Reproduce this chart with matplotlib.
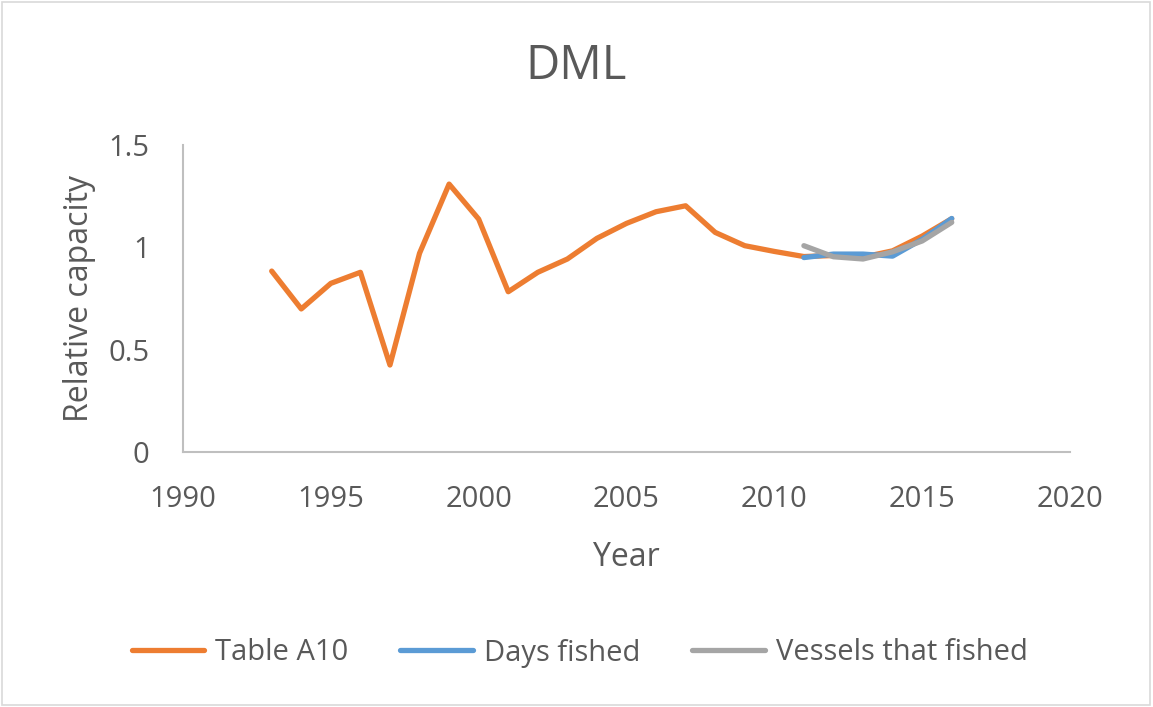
import matplotlib
matplotlib.use('Agg')
import matplotlib.pyplot as plt
from matplotlib.patches import Rectangle

# data
years_a10 = [1993, 1994, 1995, 1996, 1997, 1998, 1999, 2000, 2001, 2002, 2003, 2004,
             2005, 2006, 2007, 2008, 2009, 2010, 2011, 2012, 2013, 2014, 2015, 2016]
table_a10 = [0.884, 0.699, 0.824, 0.878, 0.425, 0.971, 1.309, 1.138, 0.783, 0.878, 0.943, 1.044,
             1.117, 1.174, 1.203, 1.073, 1.008, 0.980, 0.955, 0.960, 0.952, 0.983, 1.055, 1.140]
years_recent = [2011, 2012, 2013, 2014, 2015, 2016]
days_fished = [0.950, 0.967, 0.967, 0.957, 1.039, 1.141]
vessels_fished = [1.008, 0.954, 0.943, 0.978, 1.031, 1.122]

x_ticks = [1990, 1995, 2000, 2005, 2010, 2015, 2020]
y_ticks = [0, 0.5, 1, 1.5]
y_tick_labels = ['0', '0.5', '1', '1.5']

plt.rcParams['font.family'] = ['Open Sans', 'DejaVu Sans']
text_col = '#595959'
axis_col = '#bfbfbf'

fig = plt.figure(figsize=(11.53, 7.07), dpi=100)
ax = fig.add_axes([183 / 1153, 1 - 452 / 707, (1070 - 183) / 1153, (452 - 145) / 707])

ax.plot(years_a10, table_a10, color='#ed7d31', lw=3.8, label='Table A10', solid_capstyle='round')
ax.plot(years_recent, days_fished, color='#5b9bd5', lw=3.8, label='Days fished', solid_capstyle='round')
ax.plot(years_recent, vessels_fished, color='#a5a5a5', lw=3.8, label='Vessels that fished', solid_capstyle='round')

ax.set_xlim(1990, 2020)
ax.set_ylim(0, 1.5)
ax.set_xticks(x_ticks)
ax.set_yticks(y_ticks)
ax.set_yticklabels(y_tick_labels)
ax.tick_params(length=0, labelsize=21, colors=text_col)
ax.tick_params(axis='y', pad=24)
ax.tick_params(axis='x', pad=24)
for s in ['top', 'right']:
    ax.spines[s].set_visible(False)
for s in ['left', 'bottom']:
    ax.spines[s].set_color(axis_col)
    ax.spines[s].set_linewidth(1.5)

ax.set_xlabel('Year', fontsize=23, color=text_col, labelpad=19)
ax.set_ylabel('Relative capacity', fontsize=23, color=text_col, labelpad=9)
fig.text(0.5, 1 - 66 / 707, 'DML', ha='center', va='center', fontsize=34, color=text_col)

ax.legend(loc='center', bbox_to_anchor=(0.447, (452 - 653) / (452 - 145)), ncol=3,
          frameon=False, fontsize=21, labelcolor=text_col, handlelength=2.5,
          columnspacing=1.8, handletextpad=0.35)

fig.patches.append(Rectangle((0.002, 0.003), 0.995, 0.994, transform=fig.transFigure,
                             fill=False, edgecolor='#d9d9d9', lw=1.2))

fig.savefig('out.png', dpi=100)
